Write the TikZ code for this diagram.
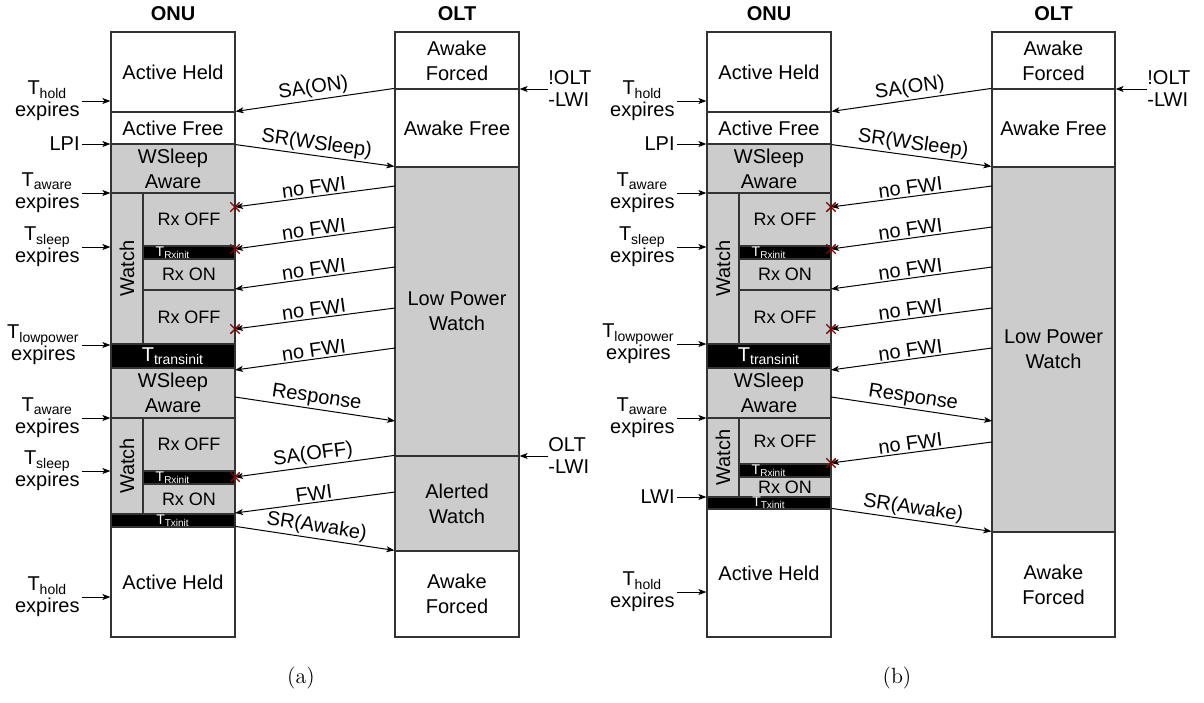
\documentclass[tikz,border=0pt]{standalone}
\usepackage{fontspec}
\newfontfamily\arial{Liberation Sans}
\usetikzlibrary{fit,positioning,arrows.meta,shapes.misc}
\definecolor{xred}{RGB}{128,0,0}
\definecolor{stategray}{RGB}{204,204,204}
\tikzset{
  box/.style={draw=black!80,line width=0.6pt,inner sep=0pt},
  txt/.style={align=center,inner sep=0pt,font=\arial\fontsize{10}{12.5}\selectfont},
  tiny/.style={text=white,inner sep=0pt,font=\arial\fontsize{7}{8}\selectfont},
  idle/.style={box,fill=white,label={[txt]center:{#1}}},
  doze/.style={box,fill=stategray,label={[txt]center:{#1}}},
  rx/.style={box,fill=stategray,label={[txt,font=\arial\fontsize{9}{11}\selectfont]center:{#1}}},
  watch/.style={box,fill=stategray,label={[txt,rotate=90]center:Watch}},
  bar/.style={box,fill=black,label={[txt,text=white]center:{#1}}},
  txbar/.style={box,fill=black,label={[tiny]center:{#1}}},
  rxbar/.style={box,fill=black},
  msg/.style={-{Stealth[length=4pt,width=3pt,inset=1pt]},line width=0.5pt},
  lbl/.style={font=\arial\fontsize{10}{12}\selectfont,sloped,above,midway,inner sep=0.8pt},
  cause/.style={font=\arial\fontsize{10}{11}\selectfont,align=center,anchor=east,inner sep=1pt},
  olt cause/.style={font=\arial\fontsize{10}{11}\selectfont,align=left,anchor=west,inner sep=0pt},
  miss/.style={cross out,draw=xred,line width=0.7pt,minimum size=4pt,inner sep=0pt},
  title/.style={font=\arial\bfseries\fontsize{10}{12}\selectfont,inner sep=0pt},
}
\begin{document}
\begin{tikzpicture}[x=0.5pt,y=-0.5pt]
\useasboundingbox (0,0) rectangle (1204,702);
% ===== (a) =====
% ONU states
\node[idle={Active Held},fit={(111,32)(235,112)}] (a-held1) {};
\node[idle={Active Free},fit={(111,112)(235,144)}] (a-free) {};
\node[doze={WSleep\\Aware},fit={(111,144)(235,193)}] (a-aware1) {};
\node[watch,fit={(111,193)(143,344)}] (a-watch1) {};
\node[rx={Rx OFF},fit={(143,193)(235,246)}] (a-off1) {};
\node[rxbar,fit={(143,246)(235,259)}] (a-rxi1) {};
\node[rx={Rx ON},fit={(143,259)(235,290)}] (a-on1) {};
\node[rx={Rx OFF},fit={(143,290)(235,344)}] (a-off2) {};
\node[bar={T\textsubscript{transinit}},fit={(111,344)(235,368)}] (a-trans) {};
\node[doze={WSleep\\Aware},fit={(111,368)(235,418)}] (a-aware2) {};
\node[watch,fit={(111,418)(143,514)}] (a-watch2) {};
\node[rx={Rx OFF},fit={(143,418)(235,471)}] (a-off3) {};
\node[rxbar,fit={(143,471)(235,484)}] (a-rxi2) {};
\node[rx={Rx ON},fit={(143,484)(235,514)}] (a-on2) {};
\node[txbar={T\textsubscript{Txinit}},fit={(111,514)(235,527)}] (a-txi) {};
\node[idle={Active Held},fit={(111,527)(235,637)}] (a-held2) {};
\node[tiny] (a-rl1) at (173,252.5) {T\textsubscript{Rxinit}};
\node[tiny] (a-rl2) at (173,477.5) {T\textsubscript{Rxinit}};
% OLT states
\node[idle={Awake\\Forced},fit={(395,32)(519,89)}] (a-forced1) {};
\node[idle={Awake Free},fit={(395,89)(519,167)}] (a-afree) {};
\node[doze={Low Power\\Watch},fit={(395,167)(519,456)}] (a-lpw) {};
\node[doze={Alerted\\Watch},fit={(395,456)(519,551)}] (a-alert) {};
\node[idle={Awake\\Forced},fit={(395,551)(519,637)}] (a-forced2) {};
\node[title,above=5pt of a-held1] (a-onu) {ONU};
\node[title,above=5pt of a-forced1] (a-olt) {OLT};
% events
\node[cause] (a-c1) at (82,101) {T\textsubscript{hold}\\expires};
\node[cause] (a-c2) at (82,144) {LPI};
\node[cause] (a-c3) at (82,193) {T\textsubscript{aware}\\expires};
\node[cause] (a-c4) at (82,247) {T\textsubscript{sleep}\\expires};
\node[cause] (a-c5) at (82,345) {T\textsubscript{lowpower}\\expires};
\node[cause] (a-c6) at (82,418) {T\textsubscript{aware}\\expires};
\node[cause] (a-c7) at (82,471) {T\textsubscript{sleep}\\expires};
\node[cause] (a-c8) at (82,597) {T\textsubscript{hold}\\expires};
\foreach \c in {1,...,8} \draw[msg] (a-c\c.east) -- (a-c\c.east -| a-held1.west);
\node[olt cause] (a-lwi1) at (548,89) {!OLT\\-LWI};
\node[olt cause] (a-lwi2) at (548,456) {OLT\\-LWI};
\draw[msg] (a-lwi1.west) -- (a-lwi1.west -| a-lpw.east);
\draw[msg] (a-lwi2.west) -- (a-lwi2.west -| a-lpw.east);
% messages
\coordinate (a-s3) at (395,186); \coordinate (a-r3) at (235,207);
\coordinate (a-s4) at (395,227); \coordinate (a-r4) at (235,249);
\coordinate (a-s5) at (395,267); \coordinate (a-r5) at (235,289);
\coordinate (a-s6) at (395,308); \coordinate (a-r6) at (235,329);
\coordinate (a-s7) at (395,348); \coordinate (a-r7) at (235,370);
\coordinate (a-s8) at (235,397); \coordinate (a-r8) at (395,421);
\coordinate (a-r9) at (235,477);
\coordinate (a-s10) at (395,492); \coordinate (a-r10) at (235,513);
\draw[msg] (a-afree.north west) -- node[lbl] {SA(ON)} (a-free.north east);
\draw[msg] (a-free.south east) -- node[lbl] {SR(WSleep)} (a-lpw.north west);
\draw[msg] (a-s3) -- node[lbl] {no FWI} (a-r3);
\draw[msg] (a-s4) -- node[lbl] {no FWI} (a-r4);
\draw[msg] (a-s5) -- node[lbl] {no FWI} (a-r5);
\draw[msg] (a-s6) -- node[lbl] {no FWI} (a-r6);
\draw[msg] (a-s7) -- node[lbl] {no FWI} (a-r7);
\draw[msg] (a-s8) -- node[lbl] {Response} (a-r8);
\draw[msg] (a-alert.north west) -- node[lbl] {SA(OFF)} (a-r9);
\draw[msg] (a-s10) -- node[lbl] {FWI} (a-r10);
\draw[msg] (a-held2.north east) -- node[lbl] {SR(Awake)} (a-forced2.north west);
\node[miss] (a-x3) at (a-r3) {};
\node[miss] (a-x4) at (a-r4) {};
\node[miss] (a-x6) at (a-r6) {};
\node[miss] (a-x9) at (a-r9) {};
\node[font=\fontsize{11}{13}\selectfont] (a-cap) at (301,678) {(a)};
% ===== (b) =====
% ONU states
\node[idle={Active Held},fit={(707,32)(831,112)}] (b-held1) {};
\node[idle={Active Free},fit={(707,112)(831,144)}] (b-free) {};
\node[doze={WSleep\\Aware},fit={(707,144)(831,193)}] (b-aware1) {};
\node[watch,fit={(707,193)(739,344)}] (b-watch1) {};
\node[rx={Rx OFF},fit={(739,193)(831,246)}] (b-off1) {};
\node[rxbar,fit={(739,246)(831,259)}] (b-rxi1) {};
\node[rx={Rx ON},fit={(739,259)(831,290)}] (b-on1) {};
\node[rx={Rx OFF},fit={(739,290)(831,344)}] (b-off2) {};
\node[bar={T\textsubscript{transinit}},fit={(707,344)(831,368)}] (b-trans) {};
\node[doze={WSleep\\Aware},fit={(707,368)(831,418)}] (b-aware2) {};
\node[watch,fit={(707,418)(739,497)}] (b-watch2) {};
\node[rx={Rx OFF},fit={(739,418)(831,464)}] (b-off3) {};
\node[rxbar,fit={(739,464)(831,477)}] (b-rxi2) {};
\node[rx={Rx ON},fit={(739,477)(831,497)}] (b-on2) {};
\node[txbar={T\textsubscript{Txinit}},fit={(707,497)(831,509)}] (b-txi) {};
\node[idle={Active Held},fit={(707,509)(831,637)}] (b-held2) {};
\node[tiny] (b-rl1) at (769,252.5) {T\textsubscript{Rxinit}};
\node[tiny] (b-rl2) at (769,470.5) {T\textsubscript{Rxinit}};
% OLT states
\node[idle={Awake\\Forced},fit={(992,32)(1115,89)}] (b-forced1) {};
\node[idle={Awake Free},fit={(992,89)(1115,167)}] (b-afree) {};
\node[doze={Low Power\\Watch},fit={(992,167)(1115,532)}] (b-lpw) {};
\node[idle={Awake\\Forced},fit={(992,532)(1115,637)}] (b-forced2) {};
\node[title,above=5pt of b-held1] (b-onu) {ONU};
\node[title,above=5pt of b-forced1] (b-olt) {OLT};
% events
\node[cause] (b-c1) at (677,101) {T\textsubscript{hold}\\expires};
\node[cause] (b-c2) at (677,144) {LPI};
\node[cause] (b-c3) at (677,193) {T\textsubscript{aware}\\expires};
\node[cause] (b-c4) at (677,247) {T\textsubscript{sleep}\\expires};
\node[cause] (b-c5) at (677,344) {T\textsubscript{lowpower}\\expires};
\node[cause] (b-c6) at (677,418) {T\textsubscript{aware}\\expires};
\node[cause] (b-c7) at (677,497) {LWI};
\node[cause] (b-c8) at (677,592) {T\textsubscript{hold}\\expires};
\foreach \c in {1,...,8} \draw[msg] (b-c\c.east) -- (b-c\c.east -| b-held1.west);
\node[olt cause] (b-lwi1) at (1147,89) {!OLT\\-LWI};
\draw[msg] (b-lwi1.west) -- (b-lwi1.west -| b-lpw.east);
% messages
\coordinate (b-s3) at (992,186); \coordinate (b-r3) at (831,207);
\coordinate (b-s4) at (992,227); \coordinate (b-r4) at (831,249);
\coordinate (b-s5) at (992,267); \coordinate (b-r5) at (831,289);
\coordinate (b-s6) at (992,308); \coordinate (b-r6) at (831,329);
\coordinate (b-s7) at (992,348); \coordinate (b-r7) at (831,370);
\coordinate (b-s8) at (831,397); \coordinate (b-r8) at (992,421);
\coordinate (b-s9) at (992,442); \coordinate (b-r9) at (831,463);
\draw[msg] (b-afree.north west) -- node[lbl] {SA(ON)} (b-free.north east);
\draw[msg] (b-free.south east) -- node[lbl] {SR(WSleep)} (b-lpw.north west);
\draw[msg] (b-s3) -- node[lbl] {no FWI} (b-r3);
\draw[msg] (b-s4) -- node[lbl] {no FWI} (b-r4);
\draw[msg] (b-s5) -- node[lbl] {no FWI} (b-r5);
\draw[msg] (b-s6) -- node[lbl] {no FWI} (b-r6);
\draw[msg] (b-s7) -- node[lbl] {no FWI} (b-r7);
\draw[msg] (b-s8) -- node[lbl] {Response} (b-r8);
\draw[msg] (b-s9) -- node[lbl] {no FWI} (b-r9);
\draw[msg] (b-held2.north east) -- node[lbl] {SR(Awake)} (b-forced2.north west);
\node[miss] (b-x3) at (b-r3) {};
\node[miss] (b-x4) at (b-r4) {};
\node[miss] (b-x6) at (b-r6) {};
\node[miss] (b-x9) at (b-r9) {};
\node[font=\fontsize{11}{13}\selectfont] (b-cap) at (897,678) {(b)};
\end{tikzpicture}
\end{document}
